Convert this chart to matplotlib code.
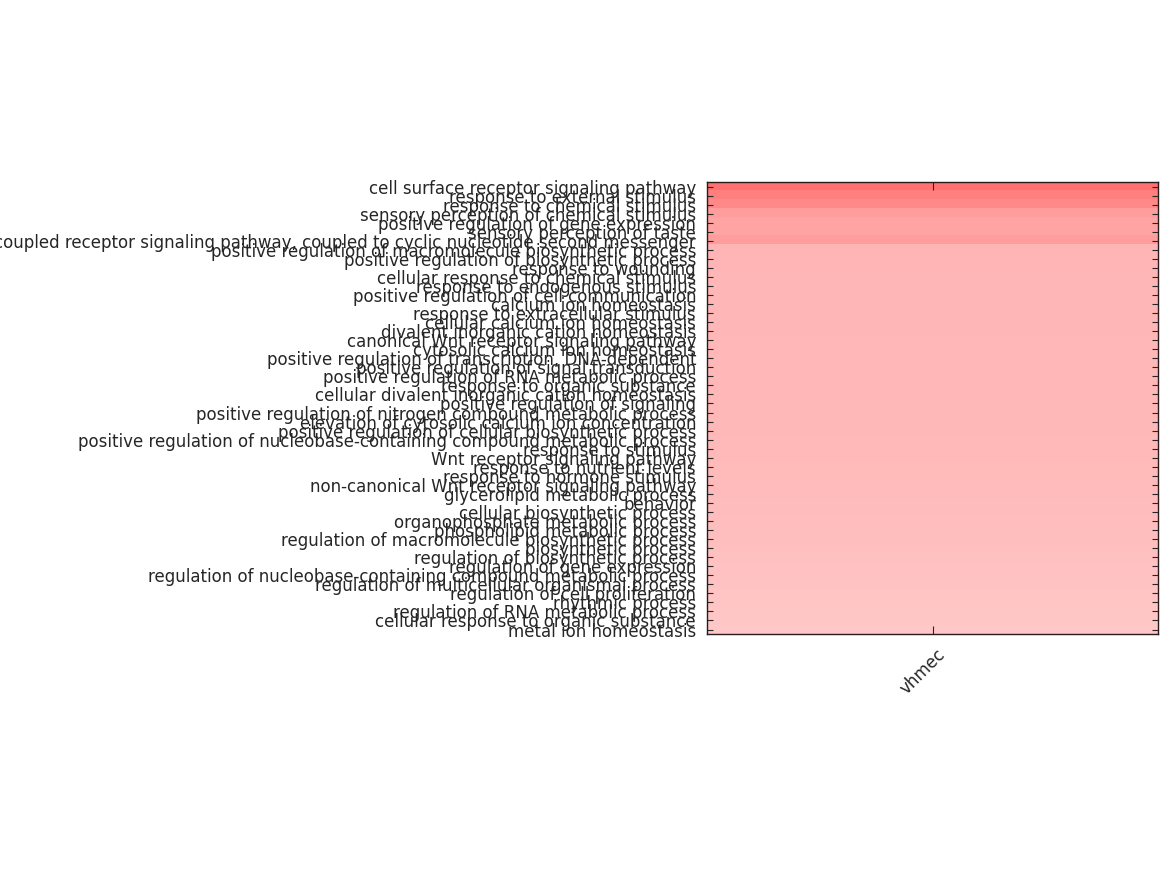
import matplotlib
matplotlib.use("Agg")
import matplotlib.pyplot as plt
import matplotlib.transforms as mtransforms
import numpy as np
from matplotlib.colors import LinearSegmentedColormap

terms = [
    "cell surface receptor signaling pathway",
    "response to external stimulus",
    "response to chemical stimulus",
    "sensory perception of chemical stimulus",
    "positive regulation of gene expression",
    "sensory perception of taste",
    "G-protein coupled receptor signaling pathway, coupled to cyclic nucleotide second messenger",
    "positive regulation of macromolecule biosynthetic process",
    "positive regulation of biosynthetic process",
    "response to wounding",
    "cellular response to chemical stimulus",
    "response to endogenous stimulus",
    "positive regulation of cell communication",
    "calcium ion homeostasis",
    "response to extracellular stimulus",
    "cellular calcium ion homeostasis",
    "divalent inorganic cation homeostasis",
    "canonical Wnt receptor signaling pathway",
    "cytosolic calcium ion homeostasis",
    "positive regulation of transcription, DNA-dependent",
    "positive regulation of signal transduction",
    "positive regulation of RNA metabolic process",
    "response to organic substance",
    "cellular divalent inorganic cation homeostasis",
    "positive regulation of signaling",
    "positive regulation of nitrogen compound metabolic process",
    "elevation of cytosolic calcium ion concentration",
    "positive regulation of cellular biosynthetic process",
    "positive regulation of nucleobase-containing compound metabolic process",
    "response to stimulus",
    "Wnt receptor signaling pathway",
    "response to nutrient levels",
    "response to hormone stimulus",
    "non-canonical Wnt receptor signaling pathway",
    "glycerolipid metabolic process",
    "behavior",
    "cellular biosynthetic process",
    "organophosphate metabolic process",
    "phospholipid metabolic process",
    "regulation of macromolecule biosynthetic process",
    "biosynthetic process",
    "regulation of biosynthetic process",
    "regulation of gene expression",
    "regulation of nucleobase-containing compound metabolic process",
    "regulation of multicellular organismal process",
    "regulation of cell proliferation",
    "rhythmic process",
    "regulation of RNA metabolic process",
    "cellular response to organic substance",
    "metal ion homeostasis",
]

samples = ["vhmec"]

scores = [
    5.60, 5.00, 4.67, 3.90, 3.62, 3.60, 3.90, 2.92, 2.90, 2.90,
    2.89, 2.88, 2.88, 2.87, 2.87, 2.86, 2.86, 2.85, 2.85, 2.84,
    2.84, 2.83, 2.83, 2.82, 2.81, 2.80, 2.79, 2.78, 2.77, 2.76,
    2.74, 2.72, 2.70, 2.68, 2.66, 2.64, 2.62, 2.60, 2.57, 2.54,
    2.51, 2.48, 2.45, 2.42, 2.40, 2.30, 2.28, 2.26, 2.23, 2.20,
]

data = np.array(scores).reshape(-1, 1)

cmap = LinearSegmentedColormap.from_list("wr", ["#ffffff", "#ff0000"])

fig = plt.figure(figsize=(11.67, 8.75), dpi=100)
ax = fig.add_axes([0.606, 0.2754, 0.3865, 0.5166])
ax.imshow(data, cmap=cmap, vmin=0, vmax=10, aspect="auto", interpolation="nearest")

ax.set_yticks(np.arange(len(terms)))
ax.set_yticklabels(terms, fontsize=12, color="#262626")
ax.set_xticks(np.arange(len(samples)))
ax.set_xticklabels([])

base = mtransforms.blended_transform_factory(ax.transData, ax.transAxes)
offset = mtransforms.ScaledTranslation(-10 / 100, -8 / 72, fig.dpi_scale_trans)
for i, name in enumerate(samples):
    ax.text(i, 0, name, transform=base + offset, rotation=45, ha="center",
            va="top", fontsize=12, color="#262626")

ax.tick_params(axis="both", direction="in", color="#262626",
               top=True, right=True, bottom=True, left=True)
ax.tick_params(axis="y", length=4, pad=8)
ax.tick_params(axis="x", length=6, pad=8)
for s in ax.spines.values():
    s.set_color("#2a1c1c")
    s.set_linewidth(1.0)

fig.savefig("out.png", dpi=100)
